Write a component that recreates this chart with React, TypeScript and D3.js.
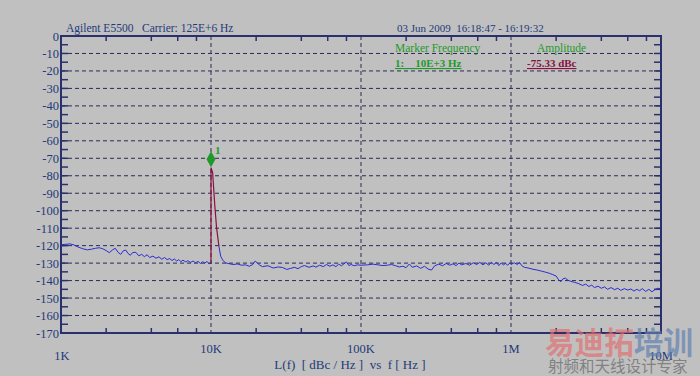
import React from "react";
import * as d3 from "d3";

const W = 700, H = 376;
const yTicks = [0, -10, -20, -30, -40, -50, -60, -70, -80, -90, -100, -110, -120, -130, -140, -150, -160, -170];
const xDecades = [1e3, 1e4, 1e5, 1e6, 1e7];
const xDecadeLabels = ["1K", "10K", "100K", "1M", "10M"];
const minorMult = [2, 4, 6, 8];

// trace before marker (1K - 10K)
const seg1: [number, number][] = [
  [1000, -119.5], [1080, -119.2], [1150, -119.0], [1220, -119.6], [1300, -120.8], [1400, -121.8],
  [1500, -122.4], [1600, -122.0], [1700, -121.5], [1800, -121.2], [1900, -121.8], [2000, -122.8],
  [2100, -124.0], [2200, -122.5], [2300, -121.5], [2400, -123.8], [2500, -125.0], [2600, -123.0],
  [2700, -122.5], [2800, -124.5], [2900, -125.5], [3000, -124.0], [3150, -123.8], [3300, -125.8],
  [3450, -125.0], [3600, -126.3], [3750, -125.2], [3900, -126.8], [4100, -126.0], [4300, -127.2],
  [4500, -126.4], [4700, -127.8], [4900, -126.8], [5100, -128.0], [5300, -127.4], [5500, -128.5],
  [5700, -127.6], [5900, -128.8], [6100, -128.0], [6300, -129.2], [6500, -128.3], [6800, -129.4],
  [7000, -128.6], [7300, -129.6], [7600, -128.8], [7900, -129.8], [8200, -129.0], [8500, -130.2],
  [8800, -129.2], [9100, -130.0], [9400, -129.0], [9700, -130.4], [10000, -130.0],
];
// marker peak (drawn in maroon)
const peak: [number, number][] = [
  [10000, -130.0], [10000, -75.33], [10250, -78], [10600, -97], [10900, -110], [11300, -120.5],
];
// trace after marker (11K - 10M)
const seg2: [number, number][] = [
  [11300, -120.5], [11600, -126.0], [12000, -128.5], [12500, -129.8], [13000, -130.2], [14000, -130.8],
  [15000, -130.5], [16000, -131.2], [17000, -131.0], [18000, -131.8], [19000, -130.8], [19700, -128.8],
  [21000, -131.0], [22000, -132.0], [24000, -131.5], [26000, -132.8], [28000, -132.2], [30000, -132.5],
  [32000, -133.6], [34000, -133.0], [36000, -132.4], [38000, -133.2], [40000, -132.0], [42000, -131.4],
  [45000, -132.4], [48000, -131.6], [50000, -132.3], [53000, -131.2], [56000, -132.0], [59000, -130.8],
  [62000, -131.8], [65000, -131.0], [68000, -132.0], [71000, -130.6], [74000, -131.5], [77000, -130.4],
  [80000, -129.3], [83000, -131.4], [86000, -130.8], [90000, -131.5], [95000, -131.0], [100000, -131.2],
  [110000, -131.0], [120000, -130.6], [130000, -131.0], [140000, -131.4], [150000, -131.2], [160000, -130.8],
  [170000, -131.5], [180000, -132.2], [190000, -131.8], [200000, -132.6], [210000, -130.5], [220000, -132.4],
  [235000, -131.6], [250000, -133.0], [265000, -131.8], [280000, -133.4], [295000, -134.0], [310000, -131.5],
  [330000, -130.6], [350000, -131.5], [370000, -130.2], [390000, -131.2], [410000, -130.4], [430000, -131.4],
  [450000, -130.0], [470000, -131.0], [500000, -130.2], [530000, -131.2], [560000, -129.8], [590000, -130.8],
  [620000, -129.6], [650000, -131.0], [680000, -129.8], [710000, -131.2], [740000, -129.5], [770000, -130.8],
  [800000, -129.6], [830000, -131.4], [860000, -129.9], [890000, -131.0], [920000, -130.2], [950000, -131.2],
  [980000, -130.0], [1000000, -130.8], [1050000, -129.8], [1100000, -130.8], [1140000, -129.6], [1180000, -131.5],
  [1230000, -132.4], [1300000, -132.8], [1400000, -133.5], [1500000, -134.0], [1600000, -134.6], [1700000, -135.2],
  [1800000, -135.8], [1900000, -136.6], [2000000, -137.4], [2080000, -139.6], [2150000, -140.6], [2220000, -139.0],
  [2300000, -138.6], [2400000, -139.8], [2500000, -140.4], [2650000, -141.0], [2800000, -141.6], [3000000, -142.8],
  [3150000, -142.0], [3300000, -143.4], [3450000, -142.6], [3600000, -144.0], [3800000, -143.2], [4000000, -144.4],
  [4200000, -143.6], [4400000, -145.0], [4650000, -144.0], [4900000, -145.2], [5150000, -144.4], [5400000, -145.6],
  [5700000, -144.6], [6000000, -145.4], [6300000, -144.8], [6600000, -146.0], [6900000, -145.0], [7200000, -145.8],
  [7500000, -144.6], [7900000, -146.2], [8300000, -145.0], [8700000, -146.4], [9100000, -145.2], [9500000, -144.4],
  [10000000, -144.8],
];
const markerFreq = 10000;
const markerAmp = -70.5;

const L = 61, R = 661, T = 36, B = 333;
const navy = "#2a2f6e";
const textCol = "#1f3a78";
const serif = "'Liberation Serif', 'DejaVu Serif', serif";

export default function App() {
  const x = d3.scaleLog().domain([1e3, 1e7]).range([L, R]);
  const y = d3.scaleLinear().domain([0, -170]).range([T, B]);
  const line = d3.line<[number, number]>().x(d => x(d[0])).y(d => y(d[1]));
  const minors: number[] = [];
  xDecades.slice(0, 4).forEach(dec => minorMult.forEach(m => minors.push(dec * m)));
  const halfTicks: number[] = [];
  for (let v = -5; v > -170; v -= 10) halfTicks.push(v);
  const mx = x(markerFreq), my = y(markerAmp);
  return (
    <svg width={W} height={H} style={{ position: "absolute", left: 0, top: 0, background: "#c0c0c0" }}>
      <rect x={0} y={0} width={W} height={H} fill="#c0c0c0" />
      {/* grid */}
      {yTicks.slice(1, -1).map(v => (
        <line key={"g" + v} x1={L} x2={R} y1={y(v)} y2={y(v)} stroke="#2a2a55" strokeWidth={1} strokeDasharray="4,3" />
      ))}
      {xDecades.slice(1, -1).map(v => (
        <line key={"gx" + v} x1={x(v)} x2={x(v)} y1={T} y2={B} stroke="#2a2a55" strokeWidth={1} strokeDasharray="4,3" />
      ))}
      {/* ticks */}
      {minors.map(v => (
        <g key={"m" + v}>
          <line x1={x(v)} x2={x(v)} y1={T} y2={T + 5} stroke={navy} strokeWidth={1.5} />
          <line x1={x(v)} x2={x(v)} y1={B} y2={B - 5} stroke={navy} strokeWidth={1.5} />
        </g>
      ))}
      {halfTicks.map(v => (
        <g key={"h" + v}>
          <line x1={L} x2={L + 7} y1={y(v)} y2={y(v)} stroke={navy} strokeWidth={1.5} />
          <line x1={R} x2={R - 7} y1={y(v)} y2={y(v)} stroke={navy} strokeWidth={1.5} />
        </g>
      ))}
      {yTicks.slice(1, -1).map(v => (
        <g key={"t" + v}>
          <line x1={L} x2={L + 7} y1={y(v)} y2={y(v)} stroke={navy} strokeWidth={1.5} />
          <line x1={R} x2={R - 7} y1={y(v)} y2={y(v)} stroke={navy} strokeWidth={1.5} />
        </g>
      ))}
      {/* traces */}
      <path d={line(seg1) || ""} fill="none" stroke="#2b2bd6" strokeWidth={1} />
      <path d={line(seg2) || ""} fill="none" stroke="#2b2bd6" strokeWidth={1} />
      <path d={line(peak) || ""} fill="none" stroke="#8a1040" strokeWidth={1.2} />
      {/* frame */}
      <rect x={L} y={T} width={R - L} height={B - T} fill="none" stroke={navy} strokeWidth={2} />
      {/* marker */}
      <path d={`M${mx},${my - 8} L${mx + 4.5},${my} L${mx},${my + 8} L${mx - 4.5},${my} Z`} fill="#1f9a2a" />
      <text x={mx + 4} y={my - 5} fontFamily={serif} fontSize={11} fontWeight="bold" fill="#1f9a2a">1</text>
      {/* y labels */}
      {yTicks.map(v => (
        <text key={"yl" + v} x={L - 2} y={y(v) + 4.5} textAnchor="end" fontFamily={serif} fontSize={12.5} fill={textCol}>{v}</text>
      ))}
      {/* x labels */}
      {xDecades.map((v, i) => (
        <text key={"xl" + v} x={x(v) + (i === 0 ? 1 : 0)} y={i === 0 || i === 4 ? 360 : 353} textAnchor="middle" fontFamily={serif} fontSize={12.5} fill={textCol}>{xDecadeLabels[i]}</text>
      ))}
      <text x={350} y={369} textAnchor="middle" fontFamily={serif} fontSize={13} fill={textCol} style={{ whiteSpace: "pre" }}>{"L(f)  [ dBc / Hz ]  vs  f [ Hz ]"}</text>
      {/* header */}
      <text x={66} y={32} fontFamily={serif} fontSize={11.5} fill={textCol} style={{ whiteSpace: "pre" }}>{"Agilent E5500   Carrier: 125E+6 Hz"}</text>
      <text x={397} y={32} fontFamily={serif} fontSize={11} fill={textCol} style={{ whiteSpace: "pre" }}>{"03 Jun 2009  16:18:47 - 16:19:32"}</text>
      <text x={395} y={52} fontFamily={serif} fontSize={11.5} fill="#1f9a2a">Marker Frequency</text>
      <text x={395} y={67} fontFamily={serif} fontSize={11} fontWeight="bold" fill="#1f9a2a" textDecoration="underline" style={{ whiteSpace: "pre" }}>{"1:    10E+3 Hz"}</text>
      <text x={537} y={52} fontFamily={serif} fontSize={11.5} fill="#1f9a2a">Amplitude</text>
      <text x={527} y={67} fontFamily={serif} fontSize={11} fontWeight="bold" fill="#8a1040" textDecoration="underline">-75.33 dBc</text>
      {/* watermark */}
      <text x={545} y={354} fontFamily="'Noto Sans CJK SC', sans-serif" fontSize={31} fontWeight="bold" fill="#e07070" fillOpacity={0.7} textLength={148} lengthAdjust="spacingAndGlyphs">易迪拓<tspan fill="#6080b0" fillOpacity={0.7}>培训</tspan></text>
      <text x={548} y={372} fontFamily="'Noto Sans CJK SC', sans-serif" fontSize={15.5} fill="#707070" fillOpacity={0.8}>射频和天线设计专家</text>
    </svg>
  );
}
